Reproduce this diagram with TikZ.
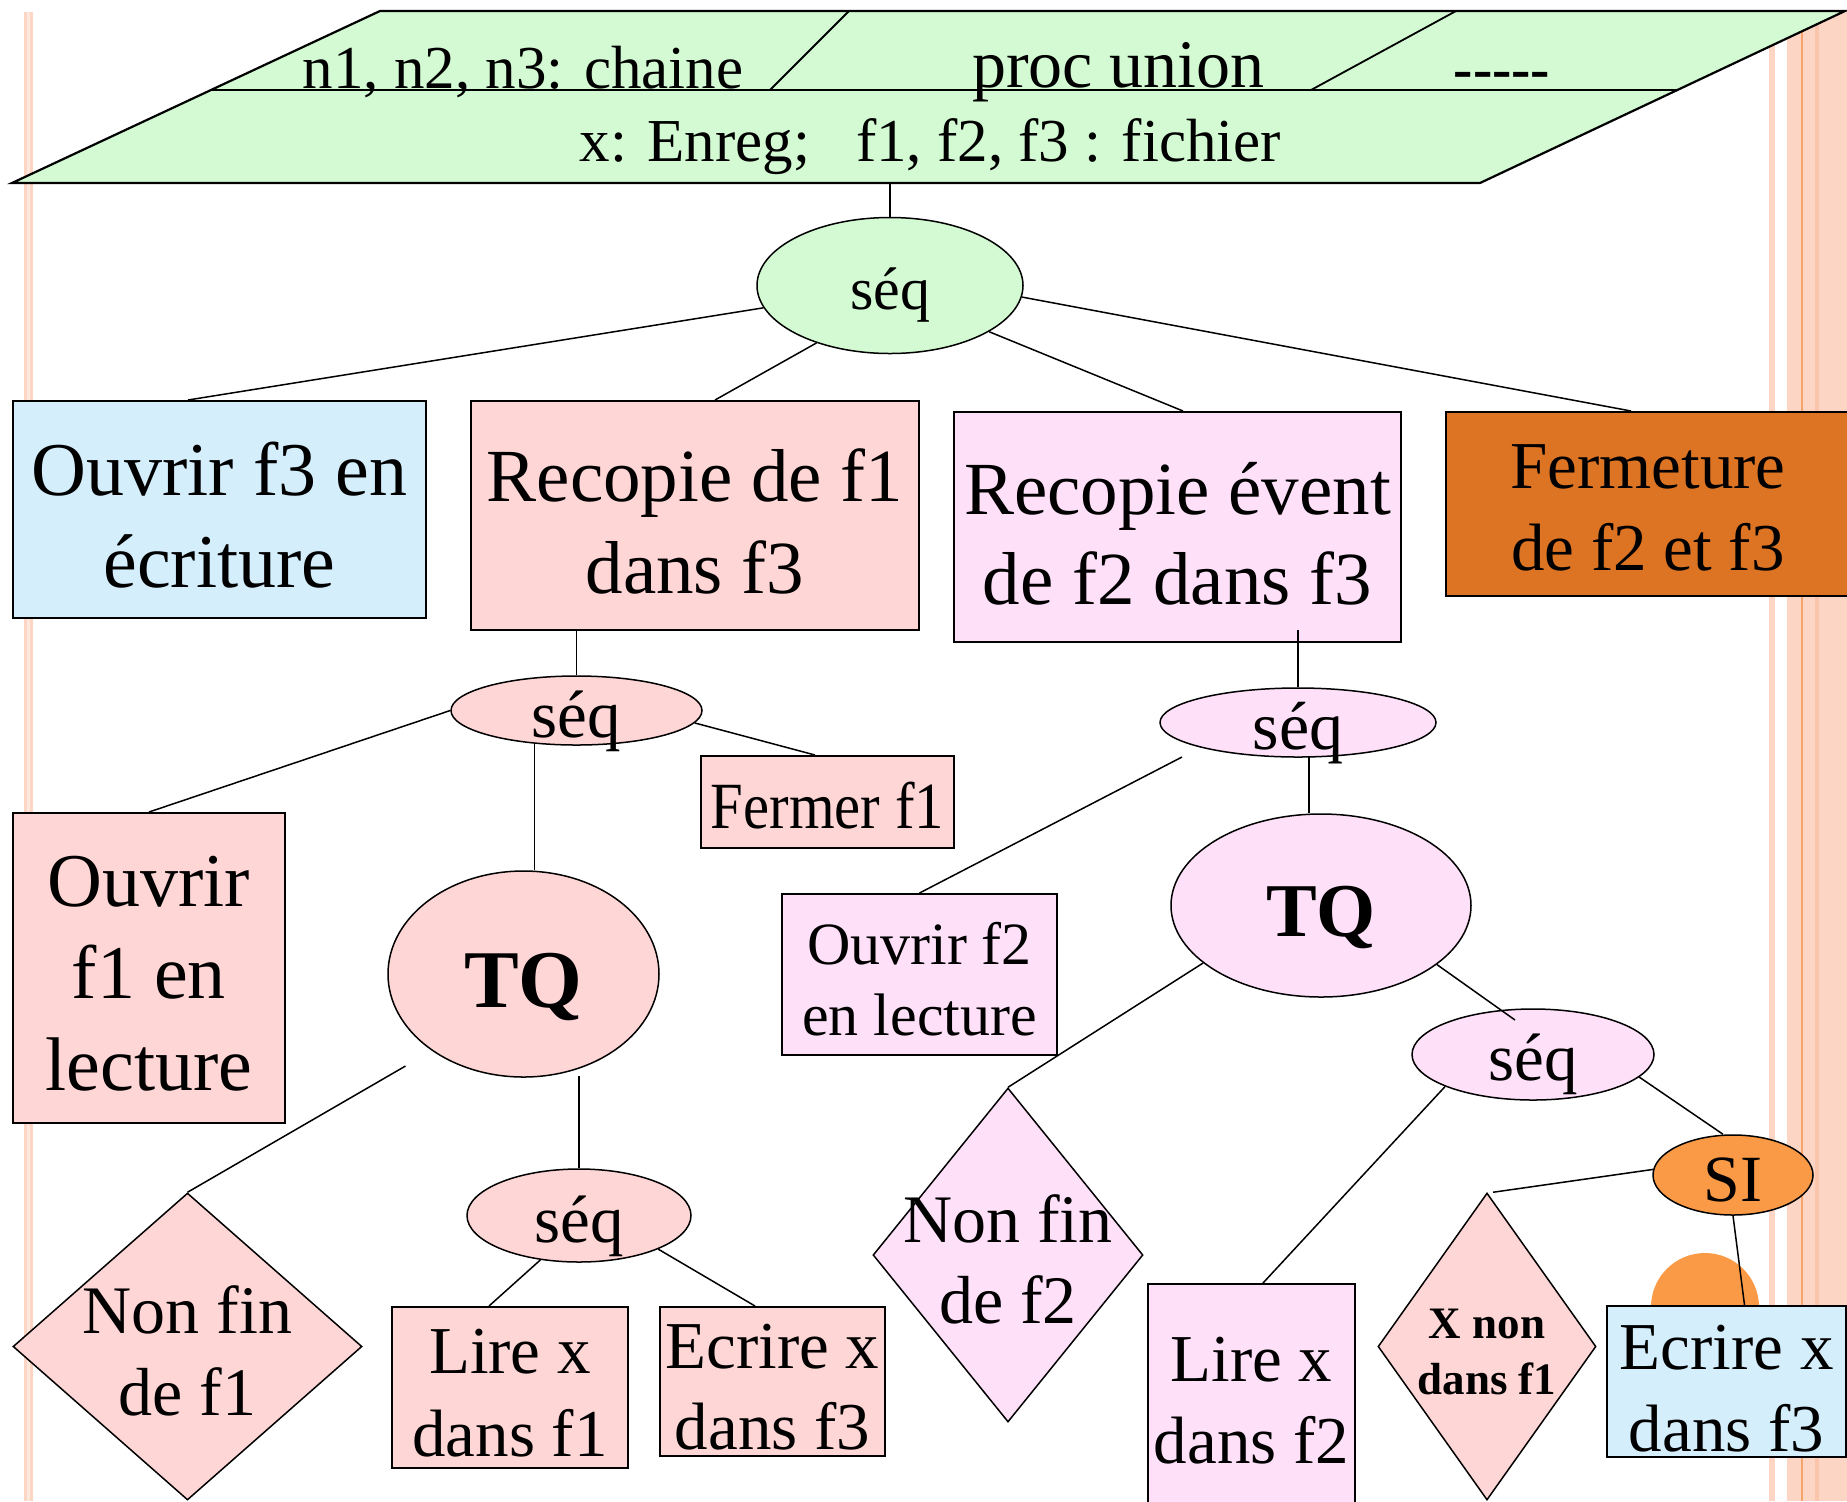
\documentclass[tikz,border=0pt]{standalone}
\usepackage{fontspec}
\usepackage{graphicx}
\setmainfont{Liberation Serif}
\usetikzlibrary{shapes.geometric,calc}

\definecolor{cgreen}{RGB}{211,250,211}
\definecolor{cblue}{RGB}{212,238,252}
\definecolor{cpink}{RGB}{255,214,214}
\definecolor{clav}{RGB}{254,224,248}
\definecolor{cdorange}{RGB}{220,116,36}
\definecolor{corange}{RGB}{251,154,70}
\definecolor{cstripe}{RGB}{253,213,196}
\definecolor{cstripelt}{RGB}{254,232,222}
\definecolor{cstripedk}{RGB}{251,196,172}
\definecolor{corangeline}{RGB}{247,164,108}

\newcommand\fsz[2]{\fontsize{#1}{#2}\selectfont}

\tikzset{
  dims/.style 2 args={minimum width=#1*0.5pt, minimum height=#2*0.5pt},
  conn/.style={line width=0.75pt},
  boxnode/.style={draw, line width=1pt, rectangle, inner sep=0pt},
  ell/.style={draw, line width=0.75pt, ellipse, inner sep=0pt},
  dia/.style={draw, line width=0.75pt, diamond, inner sep=0pt},
  lbl/.style={align=center, inner sep=0pt},
  elbl/.style={inner sep=0pt, text depth=0pt},
}

\begin{document}
\begin{tikzpicture}[x=0.5pt, y=-0.5pt]
\useasboundingbox (0,0) rectangle (1847,1501);
\fill[white] (0,0) rectangle (1847,1501);

% page border stripes
\fill[cstripe] (24,12) rectangle (33,1501);
\fill[cstripelt] (27,12) rectangle (29.5,1501);
\fill[cstripe] (1769,12) rectangle (1775,1501);
\fill[cstripe] (1787,12) rectangle (1847,1501);
\draw[corangeline, line width=0.7pt] (1802,12) -- (1802,1501);
\fill[cstripedk] (1815,12) rectangle (1819,1501);

% slide number disc (mostly hidden)
\fill[corange] (1705,1307) circle[radius=27pt];

% declaration banner
\filldraw[fill=cgreen, draw=black, line width=1.1pt]
  (380,11) -- (1845,11) -- (1480,183) -- (12,183) -- cycle;
\draw[line width=0.9pt] (211,90) -- (1677,90);
\draw[line width=0.9pt] (849,11) -- (770,90);
\draw[line width=0.9pt] (1456,11) -- (1311,90);
\node (bn1) [anchor=base, inner sep=0pt, font=\fsz{30.5}{36}] at (523,88) {n1, n2, n3: chaine};
\node (bn2) [anchor=base, inner sep=0pt, font=\fsz{34}{40}] at (1118.5,87) {proc union};
\node (bn3) [anchor=base, inner sep=0pt, font={\fsz{29}{34}\bfseries}] at (1502,88) {\mbox{-}\mbox{-}\mbox{-}\mbox{-}\mbox{-}};
\node (bn4) [anchor=base, inner sep=0pt, font=\fsz{30.5}{36}] at (930.5,161) {x: Enreg;\ \ \ f1, f2, f3 : fichier};

% first level
\node (seq0) [ell, fill=cgreen, dims={266}{136},
  label={[elbl, name=seq0t, font=\fsz{30}{36}, yshift=-1.5pt]center:séq}] at (890,285.5) {};
\node (o3) [boxnode, fill=cblue, dims={413}{217},
  label={[lbl, name=o3t, font=\fsz{38}{46}, yshift=-3pt]center:Ouvrir f3 en\\écriture}] at (219.5,509.5) {};
\node (r1) [boxnode, fill=cpink, dims={448}{229},
  label={[lbl, name=r1t, font=\fsz{37.5}{46}, yshift=-3pt]center:Recopie de f1\\dans f3}] at (695,515.5) {};
\node (re) [boxnode, fill=clav, dims={447}{230},
  label={[lbl, name=ret, font=\fsz{37.5}{45}, yshift=-3.5pt]center:Recopie évent\\de f2 dans f3}] at (1177.5,527) {};
\node (fe) [boxnode, fill=cdorange, dims={404}{184},
  label={[lbl, name=fet, font=\fsz{33.5}{41}, yshift=-1.75pt]center:Fermeture\\de f2 et f3}] at (1648,504) {};

% copy of f1
\node (s1) [ell, fill=cpink, dims={251}{69},
  label={[elbl, name=s1t, font=\fsz{33.5}{40}, yshift=-2pt]center:séq}] at (576.5,710.5) {};
\node (fc) [boxnode, fill=cpink, dims={253}{92},
  label={[lbl, name=fct, font=\fsz{33}{40}, yshift=-2pt]center:{\scalebox{0.89}[1]{Fermer f1}}}] at (827.5,802) {};
\node (o1) [boxnode, fill=cpink, dims={272}{310},
  label={[lbl, name=o1t, font=\fsz{38}{46}, yshift=-3pt]center:Ouvrir\\f1 en\\lecture}] at (149,968) {};
\node (tq1) [ell, fill=cpink, dims={271}{206},
  label={[elbl, name=tq1t, font={\fsz{41}{49}\bfseries}, yshift=-3pt]center:TQ}] at (523.5,974) {};
\node (d1) [dia, fill=cpink, dims={349}{307},
  label={[lbl, name=d1t, font=\fsz{34}{41}, yshift=-2pt]center:Non fin\\de f1}] at (187.5,1346.5) {};
\node (s3) [ell, fill=cpink, dims={224}{93},
  label={[elbl, name=s3t, font=\fsz{33.5}{40}, yshift=-2pt]center:séq}] at (579,1215.5) {};
\node (l1) [boxnode, fill=cpink, dims={236}{161},
  label={[lbl, name=l1t, font=\fsz{33.5}{41.5}, yshift=-3pt]center:Lire x\\dans f1}] at (510,1387.5) {};
\node (e1) [boxnode, fill=cpink, dims={225}{149},
  label={[lbl, name=e1t, font=\fsz{33.5}{40.5}, yshift=-3pt]center:Ecrire x\\dans f3}] at (772.5,1381.5) {};

% conditional copy of f2
\node (s2) [ell, fill=clav, dims={276}{69},
  label={[elbl, name=s2t, font=\fsz{34}{40}, yshift=-1.5pt]center:séq}] at (1298,722.5) {};
\node (o2) [boxnode, fill=clav, dims={275}{161},
  label={[lbl, name=o2t, font=\fsz{30}{35.5}, yshift=-2.5pt]center:Ouvrir f2\\en lecture}] at (919.5,974.5) {};
\node (tq2) [ell, fill=clav, dims={300}{183},
  label={[elbl, name=tq2t, font={\fsz{38}{46}\bfseries}, yshift=-2.75pt]center:TQ}] at (1321,905.5) {};
\node (d2) [dia, fill=clav, dims={270}{334},
  label={[lbl, name=d2t, font=\fsz{34}{40.5}, yshift=-2pt]center:Non fin\\de f2}] at (1008,1255) {};
\node (s4) [ell, fill=clav, dims={242}{91},
  label={[elbl, name=s4t, font=\fsz{33.5}{40}, yshift=-1.5pt]center:séq}] at (1533,1054.5) {};
\node (l2) [boxnode, fill=clav, dims={207}{224},
  label={[lbl, name=l2t, font=\fsz{33.5}{41}, yshift=-2.5pt]center:Lire x\\dans f2}] at (1251.5,1396) {};
\node (si) [ell, fill=corange, dims={160}{80},
  label={[elbl, name=sit, font=\fsz{33}{40}, yshift=-2.5pt]center:SI}] at (1733,1175) {};
\node (d3) [dia, fill=cpink, dims={218}{307},
  label={[lbl, name=d3t, font={\fsz{22.5}{28}\bfseries}, yshift=-2.5pt]center:X non\\dans f1}] at (1487,1346.5) {};
\node (e2) [boxnode, fill=cblue, dims={239}{151},
  label={[lbl, name=e2t, font=\fsz{33.5}{41}, yshift=-3.5pt]center:Ecrire x\\dans f3}] at (1726.5,1381.5) {};

% connectors
\draw[conn] (seq0.north) -- ++(0,-35);
\draw[conn] (seq0.190) -- ($(o3.north)+(-31.5,0)$);
\draw[conn] (seq0.218) -- ($(r1.north)+(20,0)$);
\draw[conn] (seq0.335) -- ($(re.north)+(5.5,0)$);
\draw[conn] (seq0.355) -- ($(fe.north)+(-17,0)$);

\draw[conn] (s1.north) -- ++(0,-46);
\draw[conn] (s1.west) -- (o1.north);
\draw[conn] (s1.354) -- ($(fc.north)+(-12.5,0)$);
\draw[conn] ($(tq1.north)+(11,0)$) -- ++(0,-127);
\draw[conn] ($(tq1.center)+(-118,92)$) -- (d1.north);
\draw[conn] (s3.north) -- ++(0,-92);
\draw[conn] (s3.229) -- ($(l1.north)+(-21,0)$);
\draw[conn] (s3.337) -- ($(e1.north)+(-17.5,0)$);

\draw[conn] (s2.north) -- ++(0,-57);
\draw[conn] ($(s2.center)+(-116,34.5)$) -- (o2.north);
\draw[conn] ($(tq2.north)+(-12,0)$) -- ++(0,-57);
\draw[conn] (tq2.206) -- (d2.north);
\draw[conn] (tq2.333) -- ($(s4.center)+(-18,-34.5)$);
\draw[conn] (s4.200) -- ($(l2.north)+(11.5,0)$);
\draw[conn] (s4.348) -- ($(si.north)+(-10,0)$);
\draw[conn] (si.176) -- ($(d3.north)+(6,0)$);
\draw[conn] (si.south) -- ($(e2.north)+(18,0)$);
\end{tikzpicture}
\end{document}
